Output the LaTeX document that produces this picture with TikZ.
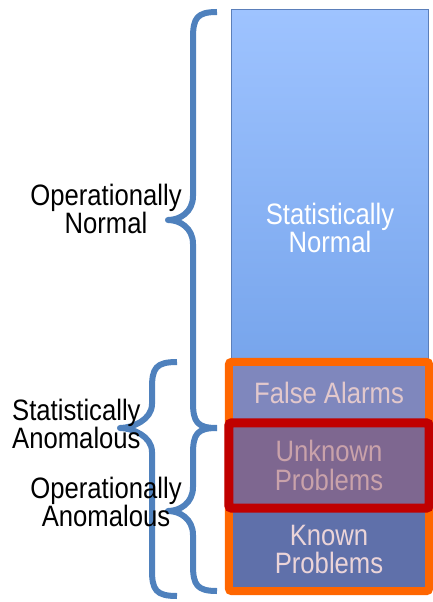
\documentclass[tikz,border=0pt]{standalone}
\usepackage{fontspec}
\newfontfamily\labelfont[FakeStretch=0.87]{Liberation Sans}
\usetikzlibrary{positioning}
\definecolor{bracecol}{HTML}{4F81BD}
\definecolor{normaltop}{HTML}{9EC3FF}
\definecolor{normalbottom}{HTML}{77A5EC}
\definecolor{normalline}{HTML}{5B7FBA}
\definecolor{alarmfill}{HTML}{7F87BD}
\definecolor{unknownfill}{HTML}{7E6790}
\definecolor{knownfill}{HTML}{5F70AA}
\definecolor{frameorange}{HTML}{FF6600}
\definecolor{framered}{HTML}{C00000}
\definecolor{alarmtext}{HTML}{E2C8CC}
\definecolor{unknowntext}{HTML}{C9A2AA}
\definecolor{knowntext}{HTML}{EBD4D8}

% curly brace: end x, spine x, tip x, top y, tip y, bottom y
\newcommand{\curlybrace}[6]{%
  \draw[bracket] (#1,#4) .. controls ({#2+4},#4) and (#2,{#4+6}) .. (#2,{#4+26})
    -- (#2,{#5-24}) .. controls (#2,{#5-8}) and ({#3+12},#5) .. (#3,#5)
    .. controls ({#3+12},#5) and (#2,{#5+8}) .. (#2,{#5+24})
    -- (#2,{#6-26}) .. controls (#2,{#6-6}) and ({#2+4},#6) .. (#1,#6);
}

\begin{document}
\begin{tikzpicture}[
    x=1pt, y=-1pt,
    labeltext/.style={font=\labelfont\fontsize{29.5}{28.5}\selectfont, align=center, inner sep=0pt},
    region/.style={labeltext, minimum width=200pt, fill=#1},
    bracket/.style={draw=bracecol, line width=6pt, line join=round},
    frame/.style={line width=#1, rounded corners=3pt},
]
    \useasboundingbox (0,0) rectangle (433,602);

    % statistically normal column
    \node[draw=normalline, line width=1pt, top color=normaltop, bottom color=normalbottom,
          minimum width=197pt, minimum height=352pt, inner sep=0pt] (normalbox) at (329.5,186) {};
    \node[labeltext, text=white] (normaltext) at (330,228) {Statistically\\Normal};

    % anomalous part
    \node[region=alarmfill, minimum height=61pt, text=alarmtext] (alarms) at (329,392.5) {False Alarms};
    \node[region=unknownfill, minimum height=85pt, text=unknowntext] (unknown) at (329,465.5) {Unknown\\Problems};
    \node[region=knownfill, minimum height=83pt, text=knowntext] (known) at (329,549.5) {Known\\Problems};

    \draw[frame=8pt, frameorange] (alarms.north west) rectangle (known.south east);
    \draw[frame=9pt, framered] (unknown.north west) rectangle (unknown.south east);

    % braces
    \curlybrace{217}{193}{168}{12}{220}{428}
    \curlybrace{217}{193}{168}{428}{511}{591}
    \curlybrace{177}{152}{120}{362}{428}{596}

    \node[labeltext] (opnormal) at (106,209) {Operationally\\Normal};
    \node[labeltext, align=left, anchor=west] (statanom) at (12,424) {Statistically\\Anomalous};
    \node[labeltext] (opanom) at (106,502) {Operationally\\Anomalous};
\end{tikzpicture}
\end{document}
